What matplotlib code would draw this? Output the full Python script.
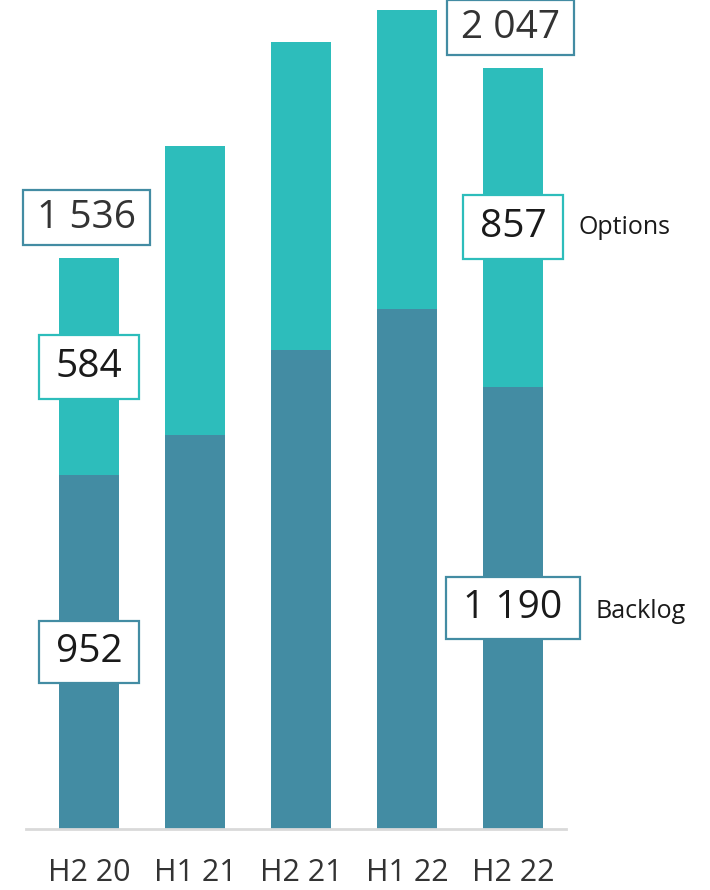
import numpy as np
import matplotlib.pyplot as plt
from matplotlib.patches import Rectangle
from matplotlib.transforms import IdentityTransform

plt.rcParams['font.family'] = ['Open Sans', 'DejaVu Sans']

periods = ['H2 20', 'H1 21', 'H2 21', 'H1 22', 'H2 22']
backlog = [952, 1060, 1289, 1399, 1190]
options = [584, 777, 828, 804, 857]
totals = [b + o for b, o in zip(backlog, options)]

c_backlog = '#438CA3'
c_options = '#2DBDBB'

fig = plt.figure(figsize=(7.1, 8.9), dpi=100)
ax = fig.add_axes([26/710, 61/890, 540/710, 829/890])

x = np.arange(len(periods))
w = 0.57
ax.bar(x, backlog, w, color=c_backlog)
ax.bar(x, options, w, bottom=backlog, color=c_options)

ax.set_xlim(-0.594, 4.5)
ax.set_ylim(0, 2230)
ax.set_yticks([])
ax.set_xticks(x)
ax.set_xticklabels(periods, fontsize=22, color='#333333')
ax.tick_params(axis='x', length=0, pad=21)
for s in ['top', 'left', 'right']:
    ax.spines[s].set_visible(False)
ax.spines['bottom'].set_color('#d9d9d9')
ax.spines['bottom'].set_linewidth(2)

def fmt(v):
    return '{:,}'.format(v).replace(',', ' ')

# (text, pad x in px, box height in px, edge colour)
boxed = []
for i in [0, len(periods) - 1]:
    t = ax.annotate(fmt(totals[i]), (x[i], totals[i]), xytext=(-2, 29),
                    textcoords='offset points', ha='center', va='center',
                    fontsize=28, color='#333333', zorder=5)
    boxed.append((t, 14, 55, c_backlog))
    t = ax.text(x[i], backlog[i] + options[i] / 2, fmt(options[i]), ha='center',
                va='center', fontsize=28, color='#1a1a1a', zorder=5)
    boxed.append((t, 17, 64, c_options))
    t = ax.text(x[i], backlog[i] / 2, fmt(backlog[i]), ha='center', va='center',
                fontsize=28, color='#1a1a1a', zorder=5)
    boxed.append((t, 17, 62, c_backlog))

ax.text(4.62, backlog[-1] + options[-1] / 2, 'Options', ha='left', va='center',
        fontsize=18, color='#1a1a1a')
ax.text(4.78, backlog[-1] / 2 - 10, 'Backlog', ha='left', va='center',
        fontsize=18, color='#1a1a1a')

# white boxes sized around the label text
fig.canvas.draw()
r = fig.canvas.get_renderer()
for t, px, h, ec in boxed:
    bb = t.get_window_extent(r)
    cy = (bb.y0 + bb.y1) / 2
    ax.add_artist(Rectangle((bb.x0 - px, cy - h / 2), bb.width + 2 * px, h,
                            transform=IdentityTransform(), fc='white', ec=ec,
                            lw=1.6, zorder=4, clip_on=False))

plt.savefig('out.png', dpi=100)
